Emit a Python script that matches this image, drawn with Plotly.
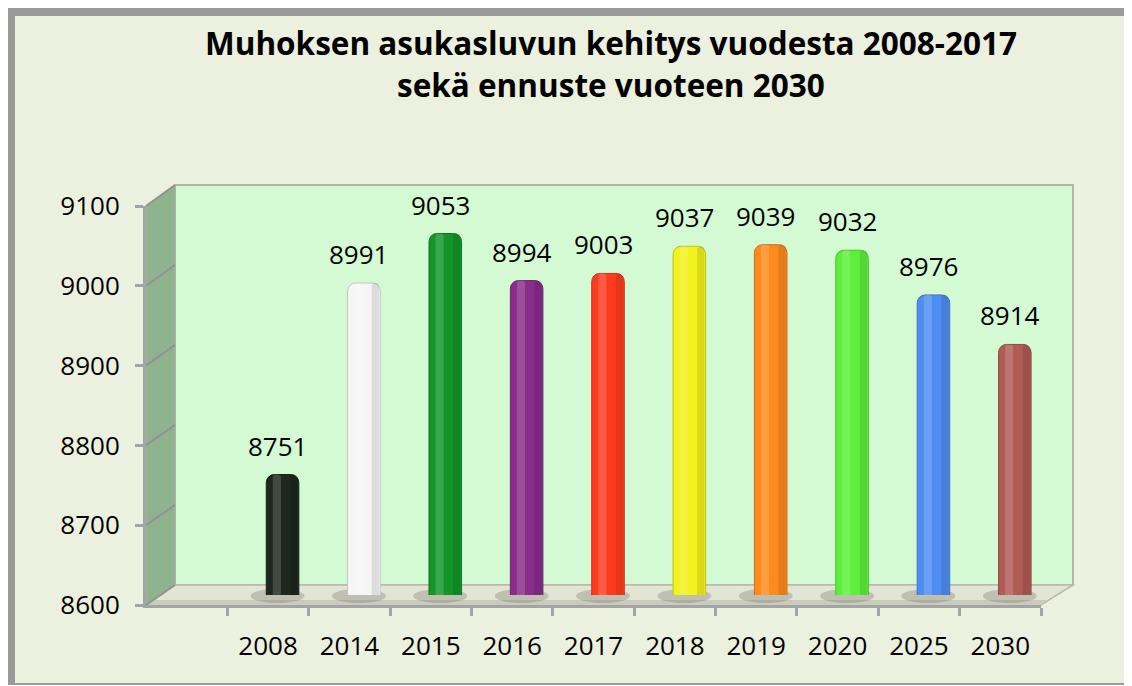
import plotly.graph_objects as go

# ---------------- data ----------------
years = ["2008", "2014", "2015", "2016", "2017", "2018", "2019", "2020", "2025", "2030"]
population = [8751, 8991, 9053, 8994, 9003, 9037, 9039, 9032, 8976, 8914]
bar_colors = ["#1E281F", "#F6F6F6", "#13952A", "#882D8A", "#FF3B1F",
              "#F2F21C", "#FF8B1E", "#5CF03B", "#4F8DF2", "#B05B55"]
y_ticks = [8600, 8700, 8800, 8900, 9000, 9100]
title_lines = ["Muhoksen asukasluvun kehitys vuodesta 2008-2017",
               "sekä ennuste vuoteen 2030"]

# ---------------- geometry (window pixel coords) ----------------
W, H = 1132, 686
OFF = 8                      # page body margin
PX0, PX1, PY0, PY1 = 146, 1073, 183, 605
L = PX0 - OFF
T = PY0 - OFF
R = W - (PX1 - OFF)
B = H - (PY1 - OFF)
PW, PH = W - L - R, H - T - B


def px(x):
    return (x - OFF - L) / PW


def py(y):
    return (H - B - (y - OFF)) / PH


def dom_x(a, b):
    return [px(a), px(b)]


def dom_y(bottom, top):
    return [py(bottom), py(top)]


FRONT = dict(x0=146, x1=1041, yb=605, yt=206)
MID = dict(x0=160.5, x1=1055.5, yb=595, yt=196)
BACK = dict(x0=175, x1=1073, yb=585, yt=185)

ymin, ymax = y_ticks[0], y_ticks[-1]
xr = [-1.5, len(years) - 0.5]


def shade(hexc, f):
    h = hexc.lstrip("#")
    r, g, b = (int(h[i:i + 2], 16) for i in (0, 2, 4))
    return "rgb(%d,%d,%d)" % (r * f, g * f, b * f)


edge_colors = [shade(c, 0.8) for c in bar_colors]

FONT = "'Open Sans', 'Noto Sans', sans-serif"

fig = go.Figure()

# front-axis helper trace (sets categories, invisible)
fig.add_trace(go.Scatter(x=years, y=population, xaxis="x3", yaxis="y3",
                         mode="markers", marker=dict(opacity=0),
                         hoverinfo="skip", showlegend=False))

# bars (mid plane)
fig.add_trace(go.Bar(x=years, y=population, xaxis="x2", yaxis="y2",
                     width=0.4,
                     marker=dict(color=bar_colors,
                                 line=dict(color=edge_colors, width=1),
                                 cornerradius=8),
                     showlegend=False, hoverinfo="x+y"))
# cylinder highlight and shade
fig.add_trace(go.Bar(x=years, y=population, xaxis="x2", yaxis="y2",
                     width=0.1, offset=-0.12,
                     marker=dict(color="rgba(255,255,255,0.16)", line=dict(width=0),
                                 cornerradius=3),
                     showlegend=False, hoverinfo="skip"))
fig.add_trace(go.Bar(x=years, y=population, xaxis="x2", yaxis="y2",
                     width=0.09, offset=0.095,
                     marker=dict(color="rgba(0,0,0,0.10)", line=dict(width=0),
                                 cornerradius=3),
                     showlegend=False, hoverinfo="skip"))

# ---------------- decorative shapes ----------------
shapes = []
# outer frame
shapes.append(dict(type="rect", xref="paper", yref="paper", layer="below",
                   x0=px(6), x1=px(W + OFF), y0=py(685), y1=py(7),
                   fillcolor="#9A9A9A", line=dict(width=0)))
shapes.append(dict(type="rect", xref="paper", yref="paper", layer="below",
                   x0=px(15), x1=px(W + OFF), y0=py(683), y1=py(16),
                   fillcolor="#ECF0DE", line=dict(width=0)))
# back wall
shapes.append(dict(type="rect", xref="paper", yref="paper", layer="below",
                   x0=px(BACK["x0"]), x1=px(BACK["x1"]),
                   y0=py(BACK["yb"]), y1=py(BACK["yt"]),
                   fillcolor="#D4FAD4", line=dict(color="#B2B6AA", width=2)))
# left wall
shapes.append(dict(type="path", xref="paper", yref="paper", layer="below",
                   path="M %f,%f L %f,%f L %f,%f L %f,%f Z" % (
                       px(FRONT["x0"]), py(FRONT["yt"]), px(BACK["x0"]), py(BACK["yt"]),
                       px(BACK["x0"]), py(BACK["yb"]), px(FRONT["x0"]), py(FRONT["yb"])),
                   fillcolor="#8FB28F", line=dict(color="#A7AFA3", width=1)))
# floor
shapes.append(dict(type="path", xref="paper", yref="paper", layer="below",
                   path="M %f,%f L %f,%f L %f,%f L %f,%f Z" % (
                       px(FRONT["x0"]), py(FRONT["yb"]), px(BACK["x0"]), py(BACK["yb"]),
                       px(BACK["x1"]), py(BACK["yb"]), px(FRONT["x1"]), py(FRONT["yb"])),
                   fillcolor="#E2E4D4", line=dict(color="#B8BAAE", width=1.5)))
# floor front darker band
shapes.append(dict(type="path", xref="paper", yref="paper", layer="below",
                   path="M %f,%f L %f,%f L %f,%f L %f,%f Z" % (
                       px(FRONT["x0"]), py(FRONT["yb"]), px(FRONT["x0"] + 7), py(FRONT["yb"] - 5),
                       px(FRONT["x1"] + 7), py(FRONT["yb"] - 5), px(FRONT["x1"]), py(FRONT["yb"])),
                   fillcolor="#C9CBBE", line=dict(width=0)))
# side-wall grid lines
fs = (FRONT["yb"] - FRONT["yt"]) / (ymax - ymin)
bs = (BACK["yb"] - BACK["yt"]) / (ymax - ymin)
for v in y_ticks:
    yf = FRONT["yb"] - (v - ymin) * fs
    yb = BACK["yb"] - (v - ymin) * bs
    shapes.append(dict(type="line", xref="paper", yref="paper", layer="below",
                       x0=px(FRONT["x0"]), y0=py(yf), x1=px(BACK["x0"]), y1=py(yb),
                       line=dict(color="#8E948C", width=2)))

# floor shadows under bars
slot = (MID["x1"] - MID["x0"]) / (xr[1] - xr[0])
for i in range(len(years)):
    cx = MID["x0"] + (i - xr[0]) * slot
    shapes.append(dict(type="circle", xref="paper", yref="paper", layer="below",
                       x0=px(cx - 32), x1=px(cx + 22),
                       y0=py(MID["yb"] + 8), y1=py(MID["yb"] - 6),
                       fillcolor="rgba(110,110,95,0.30)", line=dict(width=0)))

# value labels (category index on the bar plane axes)
annotations = []
for i, val in enumerate(population):
    annotations.append(dict(x=i, y=val, xref="x2", yref="y2", text=str(val),
                            showarrow=False, yanchor="middle",
                            yshift=29, xshift=-5,
                            font=dict(size=26, color="#000000", family=FONT)))
# title lines
title_y = [43, 85]
for line, yy in zip(title_lines, title_y):
    annotations.append(dict(x=px(611), y=py(yy), xref="paper", yref="paper",
                            text="<b>" + line + "</b>", showarrow=False,
                            xanchor="center", yanchor="middle",
                            font=dict(size=31.5, color="#000000", family=FONT)))

axis_gray = "#A4A4A4"

fig.update_layout(
    width=W, height=H,
    margin=dict(l=L, r=R, t=T, b=B, pad=0),
    paper_bgcolor="white",
    plot_bgcolor="rgba(0,0,0,0)",
    barmode="overlay",
    showlegend=False,
    font=dict(family=FONT, size=26, color="#000000"),
    shapes=shapes,
    annotations=annotations,
    # back plane
    xaxis=dict(domain=dom_x(BACK["x0"], BACK["x1"]), anchor="y", range=[0, 1],
               showgrid=False, showticklabels=False, showline=False, zeroline=False,
               ticks=""),
    yaxis=dict(domain=dom_y(BACK["yb"], BACK["yt"]), anchor="x", range=[ymin, ymax],
               tickvals=y_ticks, showgrid=True, gridcolor="#8E8E8E", gridwidth=2,
               showticklabels=False, showline=False, zeroline=False, ticks=""),
    # mid plane (bars)
    xaxis2=dict(domain=dom_x(MID["x0"], MID["x1"]), anchor="y2", type="category",
                categoryorder="array", categoryarray=years, range=xr, visible=False),
    yaxis2=dict(domain=dom_y(MID["yb"], MID["yt"]), anchor="x2", range=[ymin, ymax],
                visible=False),
    # front plane (axes)
    xaxis3=dict(domain=dom_x(FRONT["x0"], FRONT["x1"]), anchor="y3", type="category",
                categoryorder="array", categoryarray=years, range=xr,
                tickson="boundaries", ticks="outside", ticklen=8, tickwidth=3,
                tickcolor=axis_gray, showline=True, linecolor=axis_gray, linewidth=3,
                showgrid=False, zeroline=False, ticklabelstandoff=16,
                tickfont=dict(size=26, family=FONT, color="#000000")),
    yaxis3=dict(domain=dom_y(FRONT["yb"], FRONT["yt"]), anchor="x3", range=[ymin, ymax],
                tickvals=y_ticks, ticks="outside", ticklen=8, tickwidth=3,
                tickcolor=axis_gray, showline=True, linecolor=axis_gray, linewidth=3,
                showgrid=False, zeroline=False, ticklabelstandoff=10,
                tickfont=dict(size=26, family=FONT, color="#000000")),
)

fig.write_html("out.html")
